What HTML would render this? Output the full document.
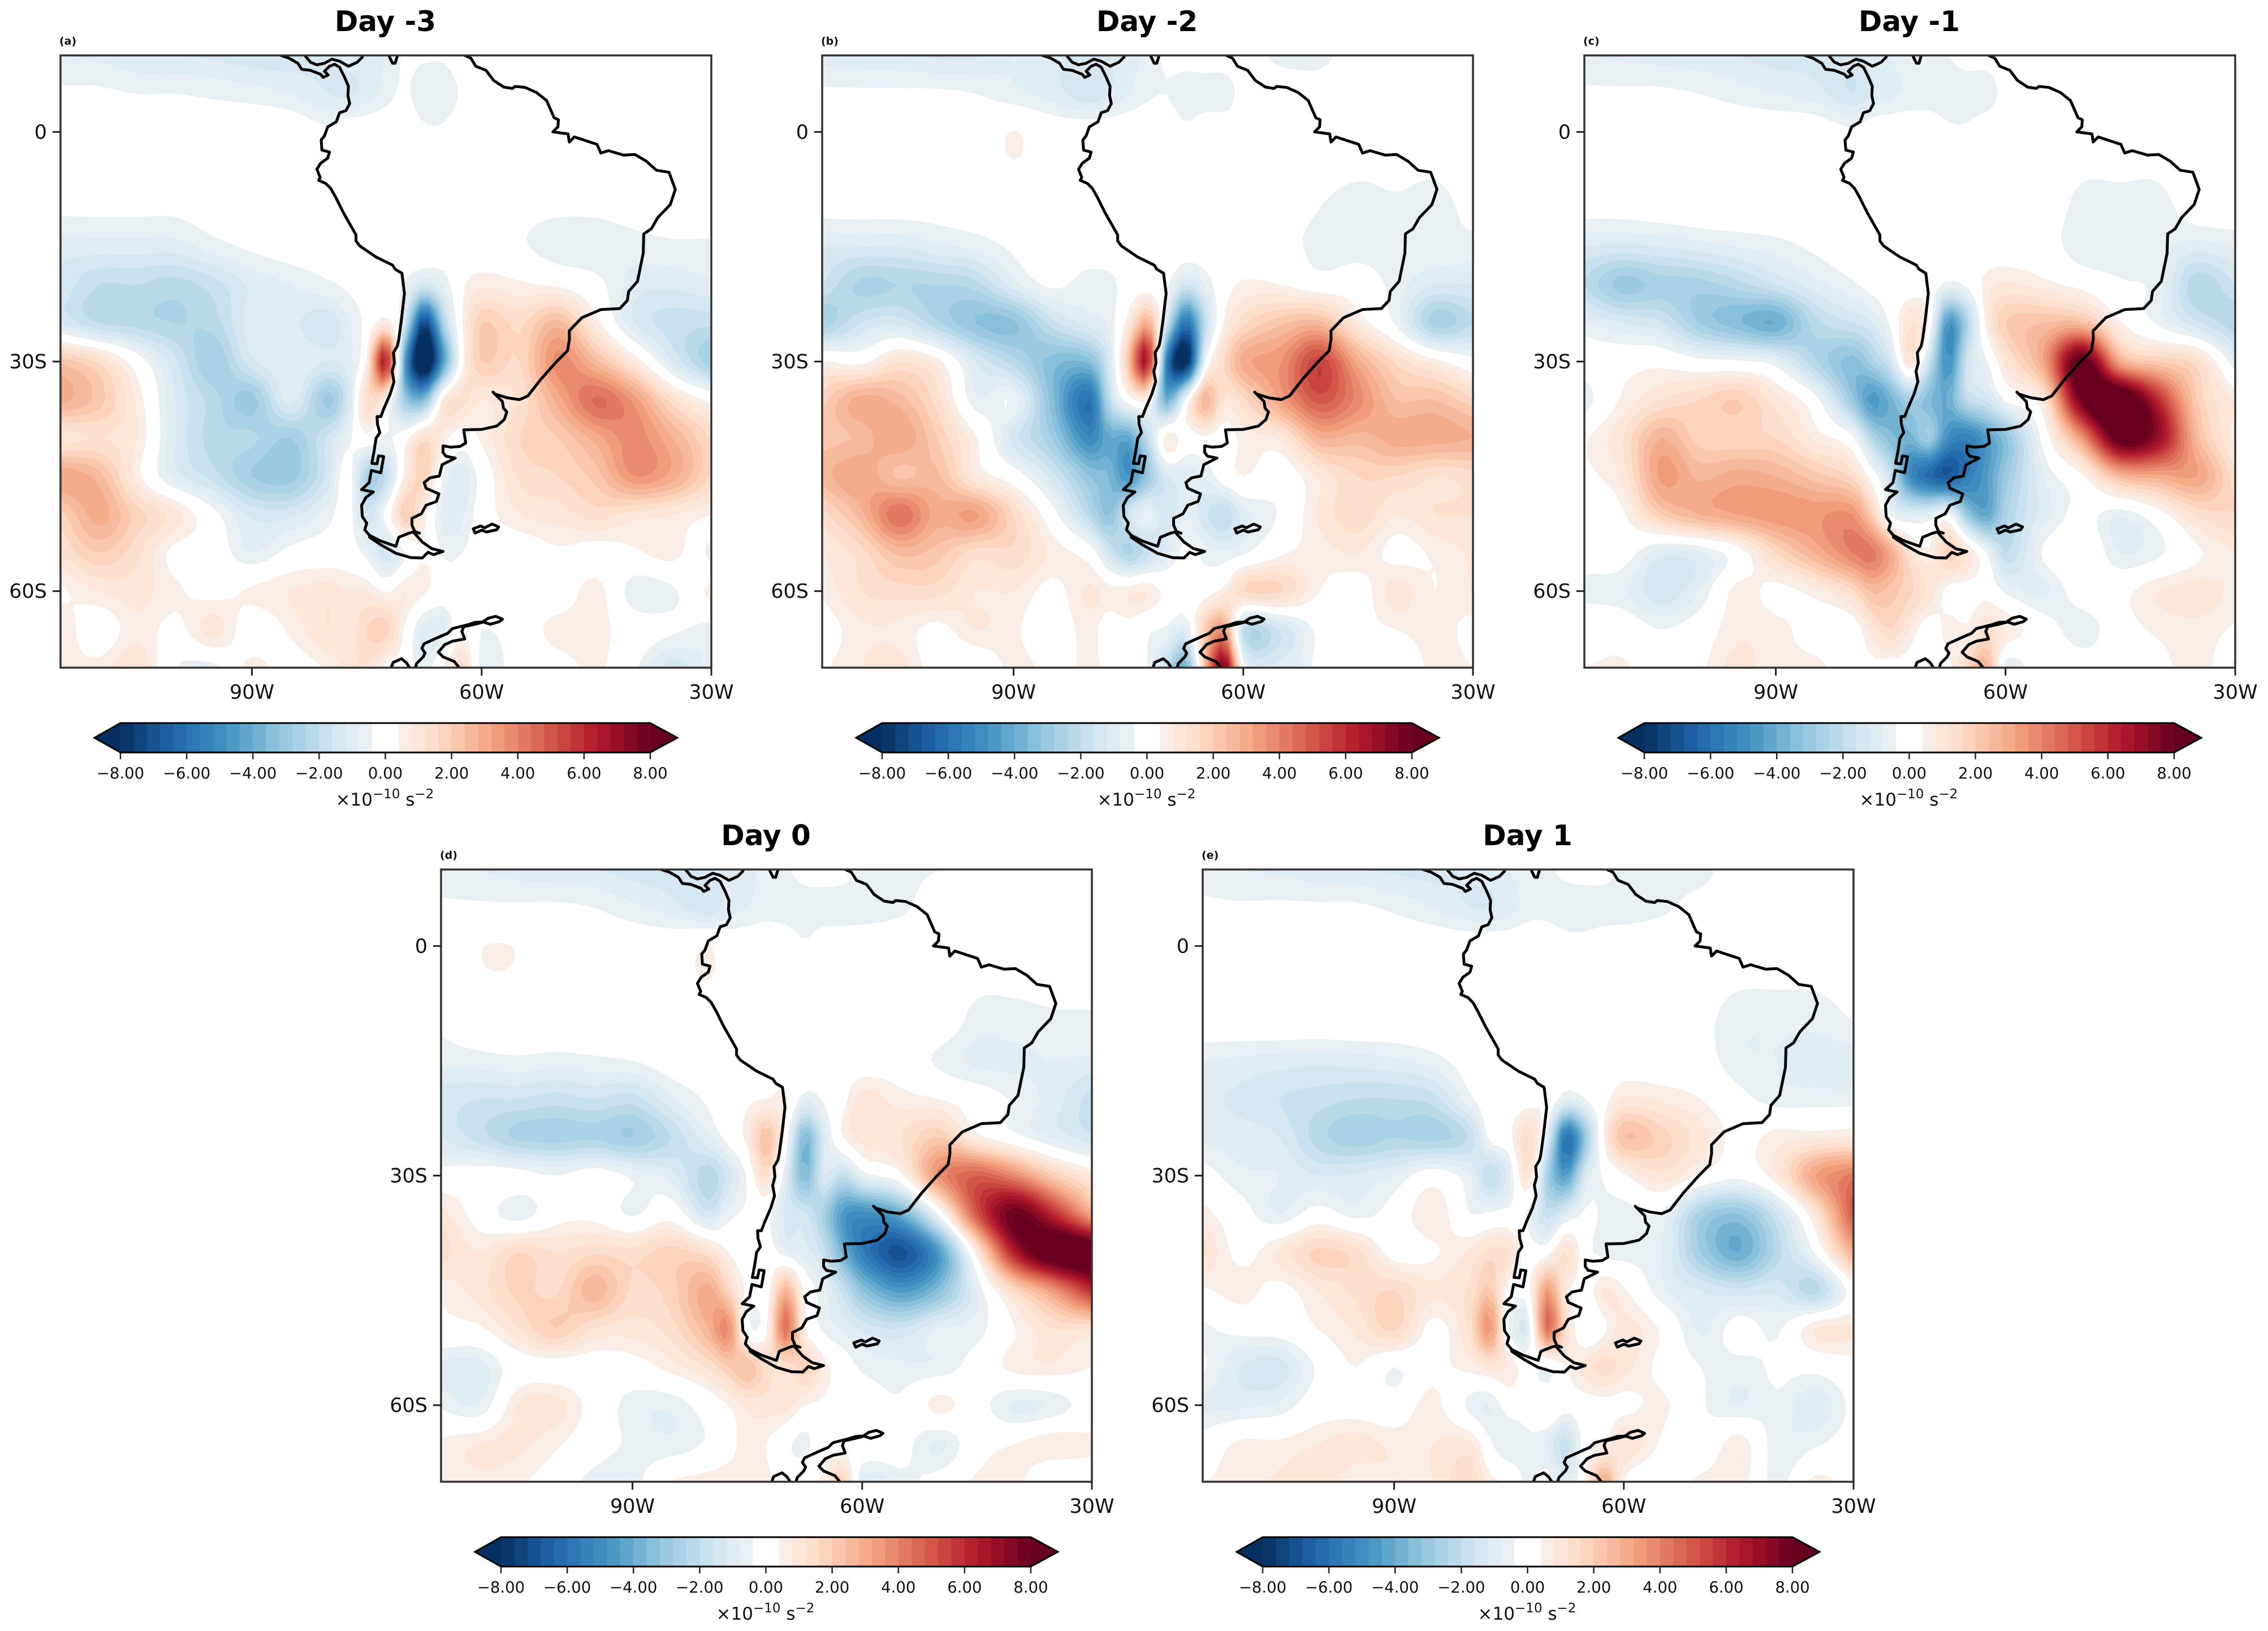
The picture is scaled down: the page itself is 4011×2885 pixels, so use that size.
<!DOCTYPE html>
<html lang="en">
<head>
<meta charset="utf-8">
<title>Day -3 to Day 1 anomaly maps</title>
<style>
html,body{margin:0;padding:0;background:#fff;}
svg{display:block;font-family:"DejaVu Sans","Liberation Sans",sans-serif;}
</style>
</head>
<body>
<svg id="figure" xmlns="http://www.w3.org/2000/svg" width="4011" height="2885" viewBox="0 0 4011 2885"></svg>
<script>
// Grid coordinates of the plotted field
const lonNodes=[-115,-110,-105,-100,-95,-90,-85,-80,-77.5,-75,-72.5,-70,-67.5,-65,-62.5,-60,-55,-50,-45,-40,-35,-30];
const latNodes=[10,5,0,-10,-15,-20,-25,-30,-35,-40,-45,-50,-55,-60,-65,-70];

// Field values (x 10^-10 s^-2), one row per latitude node
const dayMinus3=[
[-.8,-.9,-1.2,-1.2,-1.3,-1.5,-1.5,-1.2,-1,-1,-.8,-.3,-.3,-.3,0,0,0,0,0,0,0,0],
[-.3,-.3,-.4,-.4,-.5,-.6,-.8,-1.2,-1.3,-1,-.6,-.3,-.75,-.75,-.3,0,0,0,0,0,0,0],
[0,0,0,0,0,0,0,-.3,0,0,0,0,-.3,-.3,0,0,0,0,0,0,0,0],
[-.3,-.3,-.3,-.3,-.1,0,0,0,0,0,0,0,0,0,0,0,-.2,-.3,-.3,-.2,-.1,-.1],
[-1,-1,-1,-1,-.6,-.3,-.1,0,0,0,0,0,0,0,0,0,-.3,-.7,-.7,-.6,-.5,-.5],
[-1.3,-2,-2,-2.2,-1.8,-1.1,-.8,-.5,-.3,-.1,0,-.5,-1.4,-.8,.3,.7,.5,.3,-.2,-1,-1.1,-.9],
[-1.2,-2,-2.2,-2.4,-2.2,-1,-1.1,-1.5,-.9,-.2,.8,-1.5,-7.5,-2.5,.4,2,1.5,2.6,.6,-1.2,-1.8,-1.9],
[2.3,1.5,0,-1.5,-2.8,-1.3,-.9,-1.2,-1,.5,6.5,-4.5,-9.5,-4.5,.3,2,1.6,3.8,2.5,.8,-1.2,-2.8],
[3,2.2,.7,-1.2,-2.2,-3,-1,-3,-1.5,1.5,.6,-3,-3.5,.8,1.3,.8,1.3,3,4.5,3.4,1.3,.2],
[1,1.2,.8,-1.2,-2.2,-2.3,-2.8,-1.5,-.6,.2,-.5,.1,1.5,.6,0,.5,1.6,2,3,3.8,2.8,1.5],
[3.2,2.6,.6,-1,-1.8,-2.8,-3,-1.4,0,-2.5,-2,.7,1.8,-.5,-1.1,-.1,1.3,1.6,2.2,3.6,3,1.5],
[1.8,3,1.8,1,-.2,-1.3,-1.3,-.6,-.1,-1.5,-.2,2,.6,-1,-.9,0,.8,1,1.4,1,.8,.4],
[1.2,2,1.3,.2,0,-.8,-.2,0,0,-.6,-1.5,-.4,.4,-.5,-.4,0,0,.3,.1,.3,.6,-.6],
[.3,.8,1,.5,.2,.5,.8,1,.8,.8,.3,.8,.5,0,0,0,.4,0,.6,-.7,-.5,.6],
[.8,0,.7,.2,1,0,.5,1.2,.9,1.6,1.8,.3,-1,-1,.4,-.4,0,.6,.6,0,-.3,-.6],
[.6,.6,1.2,-.4,-.6,.6,0,.5,1,1.2,.2,0,-.8,.5,1.5,-.7,0,.1,.5,-.3,-1.5,-.6]
];
const dayMinus2=[
[-1,-1.1,-1.2,-1.3,-1.3,-.8,-1.1,-1.3,-1.2,-1,-.7,-.3,-.1,0,0,0,-.6,-.6,0,0,0,0],
[-.3,-.3,-.3,-.3,-.4,-.7,-1,-1.5,-1.2,-.8,-.5,-.4,-.7,-.7,-.7,-.2,0,-.1,0,0,0,0],
[0,0,0,0,0,.42,0,0,0,0,0,0,-.3,0,0,0,0,0,0,0,0,0],
[-.2,-.2,-.2,-.2,-.1,0,0,0,0,0,0,0,0,0,0,0,0,-.4,-.6,-.5,-.6,-.2],
[-1.2,-1.2,-1.2,-.9,-.7,-.3,-.1,0,0,0,0,0,0,0,0,0,-.1,-.6,-.6,-.6,-.5,-.6],
[-1.6,-2.5,-2.4,-2.4,-2.2,-1,-.3,-.7,-.6,-.1,0,-.3,-1.6,-.8,.1,.5,.4,0,0,-.6,-1.2,-1.2],
[-2.8,-1.6,-1.3,-2.3,-3.2,-3.3,-1.8,-1,-.7,.7,3,-1.5,-6,-2,.5,1.5,2.3,2.6,.8,-.5,-2.6,-2],
[.5,.2,1.2,.6,-1.2,-2.2,-3.4,-3.4,-1.3,2.2,6.6,-5.5,-8.5,-.5,1.5,3,3.6,5.5,3,1.5,.6,-.2],
[1.8,3,2.6,1.4,-.7,-.5,-3.4,-6,-2,0,.4,-4,-.3,2.8,1,1.5,3.3,5,3.8,2.4,2.4,1.7],
[2.2,2.5,3.2,2,.5,-1.4,-2.8,-5.2,-4,-4.2,-2,.8,0,.3,0,.6,.9,2.8,2.6,3,3,2.8],
[2.6,3.2,2.3,2.5,.8,0,-1.4,-3.2,-3.6,-4.8,-3,-1.3,-1,-.8,0,.4,0,.9,1.6,1.6,1.2,1.4],
[1.4,2.6,4.4,3,3.3,1.6,-.1,-2.2,-3.3,-1.4,-.6,-1.5,-.8,-1.5,-2,-1,-.3,.9,1.5,.8,1.2,1.2],
[.8,1.4,2.5,2.2,1.4,1.5,.7,0,-1.5,-2.5,-1.8,-1,-.2,-.6,-.7,-.5,.3,.6,.8,.2,.5,.9],
[.5,1.2,1.4,1.4,.8,.8,.2,.9,.6,.7,.8,.2,0,.1,.6,1.6,1.6,.4,.1,1,.4,.8],
[0,.7,.7,.2,.8,.5,0,.6,0,.2,-.3,-.5,-1,2,3.5,-2,-1.5,-.2,.2,.4,.6,.2],
[.3,.8,1,0,-.3,.6,.2,.5,.3,.3,-.4,-2,-4,2.5,8,0,-1,-.2,.4,-.3,.6,.4]
];
const dayMinus1=[
[-.8,-.9,-1,-1.1,-1.2,-1.4,-1.4,-1.4,-1,-.8,-.6,-.5,-.4,-.1,-.1,0,0,0,0,0,0,0],
[-.3,-.3,-.3,-.4,-.6,-.8,-1,-1.6,-1.2,-.9,-.7,-.7,-.7,-.7,-.7,-.2,0,0,0,0,0,0],
[0,0,0,0,0,0,0,-.3,0,0,0,0,-.3,-.3,0,0,0,0,0,0,0,0],
[-.2,-.2,-.1,0,0,0,0,0,0,0,0,0,0,0,0,0,0,-.6,-.6,-.6,-.1,0],
[-1.2,-1.3,-1.2,-1,-.8,-.6,-.3,0,0,0,0,0,0,0,0,0,-.1,-.7,-.7,-.7,-1,-.8],
[-2,-3,-2.6,-2.6,-2.2,-1.6,-1,-.5,-.2,0,0,0,-.6,-.3,.6,.9,.6,.2,-.3,-.6,-2.3,-1.6],
[-.7,-1.2,-1.5,-2.8,-3.5,-4,-2.2,-1.6,-1.3,-.3,1.2,.3,-4.8,-2.5,.6,2,2.4,2.5,.5,-.5,-1.5,-2.3],
[-.1,.1,.2,-.2,-.3,-.7,-2.3,-3.4,-2.6,-1.5,1.1,-1.6,-5,-1.5,-.5,1,3.2,8.5,3,2,1.4,-.8],
[-.7,.5,1.2,1.6,2,1,-.1,-3,-4.6,-3.8,-2.6,-3.5,-4,-2,-1.5,-.3,1,8,9.5,6,2,.7],
[.3,1.2,2.8,1.8,1.7,1.6,.7,-.2,-2.3,-3.4,-3.8,-2.8,-5,-5.5,-4.5,-3.3,-.1,3.5,8.5,7,2.6,.6],
[.2,.9,3.3,2.7,3,2.8,2.2,1.5,.1,-1.7,-5,-6.2,-6.8,-5.6,-4.5,-3,-.8,.3,2.6,3,3.2,1.3],
[-.3,.3,2,2.8,3.2,3.5,3.5,3.6,2,-.5,-1,-.9,-.2,-3,-4.2,-2.5,-1,-.2,-.7,.1,1.3,1.6],
[-.2,-.1,-1,-.9,0,1.6,2.8,4,4.2,3,1.2,.5,1.8,1,-.4,-2,-.3,.3,-.8,-.5,.3,.8],
[-.5,-.7,-1.5,-.8,.6,.2,.6,1.5,2.5,2.2,1.7,1.1,.2,.1,.2,-.5,-.9,0,.2,.8,1,.7],
[0,.1,-.4,0,.7,.6,.1,0,1,1.6,.8,0,.6,.5,1.3,.8,0,-.7,.1,.5,.7,.3],
[.4,.5,0,.3,1,.5,.6,0,.2,0,0,-.3,.2,1.5,3,-.8,.4,.1,0,.1,.8,-.6]
];
const dayZero=[
[-.7,-.8,-1,-1.1,-1.2,-1.4,-1.5,-1.2,-1,-.9,-.7,-.5,-.1,0,-.1,-.5,-.5,-.4,-.1,-.4,0,0],
[-.3,-.3,-.3,-.3,-.4,-.7,-1,-1.5,-1,-.8,-.6,-.7,-.7,-.7,-.7,-.7,-.5,-.1,0,0,0,0],
[0,.38,.38,0,0,0,0,.42,0,0,0,0,-.35,0,0,0,0,0,0,0,0,0],
[-.3,0,0,0,0,0,0,0,0,0,0,0,0,0,0,0,0,0,-.6,-.6,-.5,-.5],
[-.7,-.6,-.5,-.6,-.5,-.4,-.1,0,0,0,0,0,0,0,0,0,0,-.5,-.9,-.9,-.8,-.9],
[-1.4,-1.6,-1.6,-1.8,-1.6,-1.8,-.9,-.3,-.1,.3,.4,.5,-.7,-.3,.2,1,.6,.4,0,-.5,-1,-1.8],
[-1.2,-1.8,-2.5,-2.6,-2.5,-2.8,-2,-.8,-.2,.6,2.4,.1,-3.6,-1.2,.4,1,1.2,2,.6,-.2,-.9,-1.5],
[-.1,0,-.1,-.4,0,-.5,-1,-2.3,-1.4,-.3,1.4,-.9,-3.6,-1.2,-2,-.7,.2,3.6,4.8,3.8,2,.8],
[1,.1,-.7,.1,.2,-.5,.1,-1.5,-.6,-.3,-.2,-1.3,-1.5,-2.6,-4.6,-5,-4,-.3,5,8,6,3],
[1.4,.8,1.6,1.2,1.5,1.4,1.8,1.3,.4,0,0,-.7,-1,-1.8,-3.8,-5.5,-7,-4.6,.8,6.5,9,9],
[.5,1,1.7,1.5,2.7,1.5,1.8,3,1.7,.2,0,2.8,.2,-.7,-1.8,-3.2,-4.6,-3.4,-.8,1.6,3.5,6],
[.2,.3,1.2,2,1.2,1,1.4,2.8,3.8,-.2,.2,4.5,.5,-.5,-.9,-1.3,-1.6,-.8,-.6,.4,1.2,1.2],
[-.9,-1,0,.1,0,.1,.6,1.3,2,2.4,1.4,1.2,1.8,.6,0,-.5,-.7,-.7,-.1,.6,.7,.4],
[-.5,-.8,.8,1,.1,-.6,-.7,0,.4,.9,1,1,.4,.3,.1,0,-.3,.6,-.1,-.9,-.7,0],
[.5,.8,.9,.5,-.1,-.5,-.7,-.3,.1,.7,.4,-.2,-.6,.2,0,.1,-.1,-.9,.1,.4,.7,.5],
[.5,.7,.5,0,-.6,-.6,.4,.7,.8,.6,.6,-.1,.4,.5,2,-1,-.6,-.1,.5,.6,-.4,0]
];
const dayPlus1=[
[-.6,-.8,-.9,-1.1,-1.2,-1.3,-1.4,-1.1,-1,-.8,-.6,-.5,-.2,-.1,-.1,-.5,-.6,-.6,0,0,0,0],
[-.3,-.3,-.3,-.3,-.3,-.5,-.8,-1.2,-1.2,-1,-.6,-.6,-.7,-.7,-.7,-.7,-.5,-.2,-.3,0,0,0],
[0,.35,0,0,0,0,0,0,0,0,0,0,-.2,-.2,0,0,0,0,0,0,0,0],
[0,0,0,0,0,0,0,0,0,0,0,0,0,0,0,0,0,-.2,-.7,-.7,-.7,-.4],
[-.8,-.9,-1,-1.1,-1,-.9,-.6,-.1,0,0,0,0,0,0,0,0,0,-.1,-.7,-.8,-1,-1],
[-1.1,-1.3,-1.6,-1.8,-2,-2,-1.8,-.5,0,0,.1,.3,-.9,-.4,.2,.9,.7,.4,-.2,-.6,-.6,-.6],
[-.9,-1,-1.2,-2.2,-2.7,-2.4,-2.6,-1.9,-.2,.1,1.6,-.8,-6,-3,.6,2.4,1.8,1,.2,.6,.7,.9],
[-.1,-.7,-.8,-1.2,-1.1,-.8,0,-.8,-2,-1,1.2,-2.6,-4.5,-1.2,-.3,.3,1.1,.3,-.2,.8,3.2,4.2],
[.6,-.1,-.8,-.1,-.6,-.1,.8,-.4,-.3,-.2,-.5,-1.8,-1,-.3,-.5,-.6,-.5,-2.6,-3.2,-1.6,1,5],
[1.3,.2,.9,1.7,1.4,.1,.3,.9,1.4,1.2,0,.1,1.3,-.1,-.6,-.6,-.8,-2.8,-4,-2.2,-.3,3],
[.3,.6,.2,.8,1.3,1.6,.9,1.3,2.2,.1,.1,3.4,.7,.1,.9,.5,-.7,-1.2,-1.5,-1.3,-2.2,.1],
[-.5,-.2,-.1,.4,.9,1.7,.2,1.4,3.6,-.4,-1,4.5,1.3,-.3,.3,1,.3,-.9,-.1,-.5,.8,.9],
[-.3,-1.2,-1.4,-.3,.4,-.4,.2,.6,1,.8,-.1,-.4,.4,1,1.4,1,.2,-.4,-.6,-.3,-.2,.2],
[-.9,-.9,-.7,0,.1,-.1,.6,-.6,-.8,-.1,-.2,.3,-.1,.1,.2,.2,.5,-.3,-.8,-.5,-1.1,-.2],
[-.1,.5,.5,.8,1,.7,.8,.9,-.3,-.8,-.5,-.8,-1.8,.1,.5,1.2,.3,-.3,.7,-.7,-.5,0],
[.4,.6,.9,1.2,.5,.8,.8,1.6,.6,.3,-.6,-.1,-1,.4,3.2,.3,-.2,.6,.7,-.6,.6,0]
];

// Contour levels and tick labels
const contourLevels=[-8,-7.6,-7.2,-6.8,-6.4,-6,-5.6,-5.2,-4.8,-4.4,-4,-3.6,-3.2,-2.8,-2.4,-2,-1.6,-1.2,-.8,-.4,0,.4,.8,1.2,1.6,2,2.4,2.8,3.2,3.6,4,4.4,4.8,5.2,5.6,6,6.4,6.8,7.2,7.6,8];
const colorbarTicks=[-8,-6,-4,-2,0,2,4,6,8];
const xTickLons=[-90,-60,-30];
const xTickLabels=['90W','60W','30W'];
const yTickLats=[0,-30,-60];
const yTickLabels=['0','30S','60S'];
const rdbuStops=['#053061','#2166ac','#4393c3','#92c5de','#d1e5f0','#f7f7f7','#fddbc7','#f4a582','#d6604d','#b2182b','#67001f'];

// Coastline traces
function trace7(p){const o=[];for(let i=0;i<p.length;i+=2){o.push([-85.97+p[i]/30.33,10.56-p[i+1]/37.9]);}return o;}
function trace8(p){const o=[];for(let i=0;i<p.length;i+=2){o.push([-82.28+p[i]/40.6,-27.1-p[i+1]/40.6]);}return o;}
function trace9(p){const o=[];for(let i=0;i<p.length;i+=2){o.push([-78.59+p[i]/40.6,-58.86-p[i+1]/40.6]);}return o;}
const coastLines=[
 trace7([-10,20,25,35,60,60,75,90,110,95,150,115,160,130,180,118,165,100,185,75,205,65,225,80,245,130,260,175,258,220,265,260,250,295,225,305,212,350,178,375,165,420,152,440,155,490,185,500,178,530,150,555,135,585,148,625,142,640,170,655,190,680,210,725,240,800,290,910,290,940,305,965,370,1020,435,1060,445,1080,472,1100,482,1200,470,1330]).concat(
 trace8([465,0,458,35,437,70,442,125,430,170,440,225,420,290,385,370,370,410,350,410,352,450,365,495,345,525,335,590,322,658,350,660,358,618,385,622,370,708,320,695,308,760,268,797,330,810,290,840,268,880,272,940,295,975,285,1010,310,1040,370,1070,450,1098,465,1050,520,1028,550,1020,575,1028])),
 trace7([80,10,110,55,135,68,165,60,195,40,225,50,260,75,295,55,315,30,318,5]),
 trace7([415,5,425,35,435,60,445,60,458,5]),
 trace7([710,15,745,35,765,75,805,95,835,145,875,178,910,185,920,175,960,180,1005,205,1045,245,1075,330,1092,340,1090,375,1070,400,1130,410,1135,450,1155,425,1245,462,1260,505,1290,493,1350,515,1395,512,1440,545,1480,590,1530,600,1555,685,1535,760,1485,825,1460,880,1430,905,1428,1000,1405,1140,1370,1190,1365,1235,1335,1275,1260,1280,1185,1320,1135,1385]).concat(
 trace8([1370,0,1360,60,1300,120,1220,210,1150,300,1105,320,1040,310,975,290,965,280,1015,330,1020,365,1038,385,1025,425,985,460,905,478,810,480,820,550,790,568,740,572,700,565,700,600,715,620,765,630,695,665,680,725,630,735,600,760,610,790,678,820,665,860,610,880,585,925,535,950,535,985,550,1020])),
 trace8([310,1050,370,1090,450,1135,530,1158,590,1160,620,1130,650,1142,700,1125,640,1110,590,1075,550,1030]),
 trace8([860,1005,900,990,920,1000,960,980,995,995,985,1010,930,1022,905,1012,870,1028,860,1005]),
 trace9([400,470,410,430,445,395,455,375,438,350,450,325,540,285,575,270,600,245,640,235,680,225,720,212,760,210,790,190,830,180,865,195,850,208,800,222,765,210,720,222,660,235,650,260,665,300,600,312,560,330,525,370,550,395,610,420,650,470]),
 trace9([270,470,285,425,330,405,355,425,385,470])
];

// Figure layout
const panelWidth=1151, panelHeight=1083;
const panels=[
 {id:'a',title:'Day -3',left:107,top:98,rows:dayMinus3},
 {id:'b',title:'Day -2',left:1454,top:98,rows:dayMinus2},
 {id:'c',title:'Day -1',left:2802,top:98,rows:dayMinus1},
 {id:'d',title:'Day 0',left:780,top:1538,rows:dayZero},
 {id:'e',title:'Day 1',left:2127,top:1538,rows:dayPlus1}
];

const SVGNS='http://www.w3.org/2000/svg';
const figure=document.getElementById('figure');
function make(tag,attrs,parent,text){
  const n=document.createElementNS(SVGNS,tag);
  for(const k in attrs){n.setAttribute(k,attrs[k]);}
  if(text!==undefined){n.textContent=text;}
  parent.appendChild(n);
  return n;
}
function lonToX(p,lon){return p.left+(lon+115)/85*panelWidth;}
function latToY(p,lat){return p.top+(10-lat)/80*panelHeight;}
function rdbu(v){
  const t=Math.max(0,Math.min(1,(v+8)/16))*10;
  const i=Math.min(9,Math.floor(t));
  const f=t-i;
  const a=rdbuStops[i],b=rdbuStops[i+1];
  const c=[1,3,5].map(function(s){
    const x=parseInt(a.substr(s,2),16),y=parseInt(b.substr(s,2),16);
    return Math.round(x+(y-x)*f);
  });
  return 'rgb('+c.join(',')+')';
}
function bandColor(lo,hi){
  if(lo>=-.4&&hi<=.4){return '#ffffff';}
  return rdbu((lo+hi)/2);
}
function hermite(xs,vs,x){
  const n=xs.length,up=xs[1]>xs[0];
  let i=0;
  while(i<n-2&&(up?x>xs[i+1]:x<xs[i+1])){i++;}
  const h=xs[i+1]-xs[i],t=(x-xs[i])/h;
  const m0=i>0?(vs[i+1]-vs[i-1])/(xs[i+1]-xs[i-1]):(vs[1]-vs[0])/h;
  const m1=i<n-2?(vs[i+2]-vs[i])/(xs[i+2]-xs[i]):(vs[i+1]-vs[i])/h;
  const t2=t*t,t3=t2*t;
  return (2*t3-3*t2+1)*vs[i]+(t3-2*t2+t)*h*m0+(-2*t3+3*t2)*vs[i+1]+(t3-t2)*h*m1;
}
const STEP=1;
function fineField(rows){
  const fineLats=[],fineLons=[];
  for(let la=10;la>=-70;la-=STEP){fineLats.push(la);}
  for(let lo=-115;lo<=-30;lo+=STEP){fineLons.push(lo);}
  const out=[];
  for(let j=0;j<fineLats.length;j++){
    const across=[];
    for(let c=0;c<lonNodes.length;c++){
      const col=rows.map(function(r){return r[c]||0;});
      across.push(hermite(latNodes,col,fineLats[j]));
    }
    out.push(fineLons.map(function(lo){return hermite(lonNodes,across,lo);}));
  }
  return {lats:fineLats,lons:fineLons,values:out};
}
function regionPath(p,grid,level,sign){
  const L=level*sign,V=grid.values,parts=[];
  const X=grid.lons.map(function(l){return lonToX(p,l);});
  const Y=grid.lats.map(function(l){return latToY(p,l);});
  for(let j=0;j<Y.length-1;j++){
    let runStart=-1;
    for(let i=0;i<=X.length-1;i++){
      let full=false,a,b,c,d;
      if(i<X.length-1){
        a=V[j][i]*sign;b=V[j][i+1]*sign;c=V[j+1][i+1]*sign;d=V[j+1][i]*sign;
        full=a>=L&&b>=L&&c>=L&&d>=L;
      }
      if(full){if(runStart<0){runStart=i;}continue;}
      if(runStart>=0){
        parts.push('M'+X[runStart].toFixed(1)+' '+Y[j].toFixed(1)+'H'+X[i].toFixed(1)+'V'+Y[j+1].toFixed(1)+'H'+X[runStart].toFixed(1)+'Z');
        runStart=-1;
      }
      if(i>=X.length-1){continue;}
      if(a<L&&b<L&&c<L&&d<L){continue;}
      const cx=[X[i],X[i+1],X[i+1],X[i]],cy=[Y[j],Y[j],Y[j+1],Y[j+1]],cv=[a,b,c,d],poly=[];
      for(let k=0;k<4;k++){
        const m=(k+1)%4;
        if(cv[k]>=L){poly.push(cx[k].toFixed(1)+' '+cy[k].toFixed(1));}
        if((cv[k]>=L)!==(cv[m]>=L)){
          const f=(L-cv[k])/(cv[m]-cv[k]);
          poly.push((cx[k]+(cx[m]-cx[k])*f).toFixed(1)+' '+(cy[k]+(cy[m]-cy[k])*f).toFixed(1));
        }
      }
      if(poly.length>2){parts.push('M'+poly.join('L')+'Z');}
    }
  }
  return parts.join('');
}

panels.forEach(function(p){
  const cx=p.left+panelWidth/2;
  const bottom=p.top+panelHeight;
  const g=make('g',{},figure);
  
  

  const title=make('text',{x:cx-1,y:p.top-43,'font-size':50,'font-weight':'bold','text-anchor':'middle',fill:'#000'},g,p.title);
  
  

  const tag=make('text',{x:p.left-2,y:p.top-19,'font-size':19,'font-weight':'bold',fill:'#111'},g,'('+p.id+')');
  
  

  const clip=make('clipPath',{id:'clip-'+p.id},g);
  make('rect',{x:p.left,y:p.top,width:panelWidth,height:panelHeight},clip);

  const field=make('g',{'clip-path':'url(#clip-'+p.id+')'},g);
  
  

  const grid=fineField(p.rows);
  const zero=contourLevels.indexOf(0);
  for(let i=zero+1;i<contourLevels.length;i++){
    const lo=contourLevels[i];
    const hi=i+1<contourLevels.length?contourLevels[i+1]:null;
    const d=regionPath(p,grid,lo,1);
    if(!d){continue;}
    const band=make('path',{d:d,fill:hi===null?rdbuStops[10]:bandColor(lo,hi)},field);
    
    
  }
  for(let i=zero-1;i>=0;i--){
    const hi=contourLevels[i];
    const lo=i>0?contourLevels[i-1]:null;
    const d=regionPath(p,grid,hi,-1);
    if(!d){continue;}
    const band=make('path',{d:d,fill:lo===null?rdbuStops[0]:bandColor(lo,hi)},field);
    
    
  }

  const coast=make('g',{'clip-path':'url(#clip-'+p.id+')',fill:'none',stroke:'#000','stroke-width':5,'stroke-linejoin':'round','stroke-linecap':'round'},g);
  
  
  coastLines.forEach(function(line){
    const pts=line.map(function(q){return lonToX(p,q[0]).toFixed(1)+','+latToY(p,q[1]).toFixed(1);}).join(' ');
    const seg=make('polyline',{points:pts},coast);
    
    
  });

  const frame=make('rect',{x:p.left,y:p.top,width:panelWidth,height:panelHeight,fill:'none',stroke:'#333','stroke-width':3.5},g);
  
  

  xTickLons.forEach(function(lon,i){
    const x=lonToX(p,lon);
    const tick=make('line',{x1:x,x2:x,y1:bottom,y2:bottom+14,stroke:'#222','stroke-width':3},g);
    
    
    const label=make('text',{x:x,y:bottom+55,'font-size':35,'text-anchor':'middle',fill:'#111'},g,xTickLabels[i]);
    
    
  });
  yTickLats.forEach(function(lat,i){
    const y=latToY(p,lat);
    const tick=make('line',{x1:p.left-14,x2:p.left,y1:y,y2:y,stroke:'#222','stroke-width':3},g);
    
    
    const label=make('text',{x:p.left-24,y:y+12,'font-size':35,'text-anchor':'end',fill:'#111'},g,yTickLabels[i]);
    
    
  });

  // Colorbar
  const cbLeft=p.left+106,cbWidth=937,cbTop=bottom+98,cbHeight=52;
  const cbX=function(v){return cbLeft+(v+8)/16*cbWidth;};
  const cb=make('g',{},g);
  
  
  const tipL=make('polygon',{points:cbLeft+','+cbTop+' '+(cbLeft-46)+','+(cbTop+cbHeight/2)+' '+cbLeft+','+(cbTop+cbHeight),fill:rdbuStops[0]},cb);
  
  
  const tipR=make('polygon',{points:(cbLeft+cbWidth)+','+cbTop+' '+(cbLeft+cbWidth+48)+','+(cbTop+cbHeight/2)+' '+(cbLeft+cbWidth)+','+(cbTop+cbHeight),fill:rdbuStops[10]},cb);
  
  
  for(let i=0;i<contourLevels.length-1;i++){
    const lo=contourLevels[i],hi=contourLevels[i+1];
    const seg=make('rect',{x:cbX(lo),y:cbTop,width:cbX(hi)-cbX(lo)+.6,height:cbHeight,fill:bandColor(lo,hi)},cb);
    
    
  }
  const outline=make('polygon',{points:cbLeft+','+cbTop+' '+(cbLeft+cbWidth)+','+cbTop+' '+(cbLeft+cbWidth+48)+','+(cbTop+cbHeight/2)+' '+(cbLeft+cbWidth)+','+(cbTop+cbHeight)+' '+cbLeft+','+(cbTop+cbHeight)+' '+(cbLeft-46)+','+(cbTop+cbHeight/2),fill:'none',stroke:'#000','stroke-width':3},cb);
  
  
  colorbarTicks.forEach(function(v){
    const x=cbX(v);
    const tick=make('line',{x1:x,x2:x,y1:cbTop+cbHeight,y2:cbTop+cbHeight+12,stroke:'#222','stroke-width':2.5},cb);
    
    
    const txt=(v<0?'\u2212':'')+Math.abs(v).toFixed(2);
    const label=make('text',{x:x,y:cbTop+98,'font-size':27.5,'text-anchor':'middle',fill:'#111'},cb,txt);
    
    
  });
  const unit=make('text',{x:cbLeft+cbWidth/2-1,y:cbTop+146,'font-size':31,'text-anchor':'middle',fill:'#111'},cb);
  
  
  make('tspan',{},unit,'\u00d710');
  make('tspan',{dy:-13,'font-size':23},unit,'\u221210');
  make('tspan',{dy:13},unit,' s');
  make('tspan',{dy:-13,'font-size':23},unit,'\u22122');
});
</script>
</body>
</html>
